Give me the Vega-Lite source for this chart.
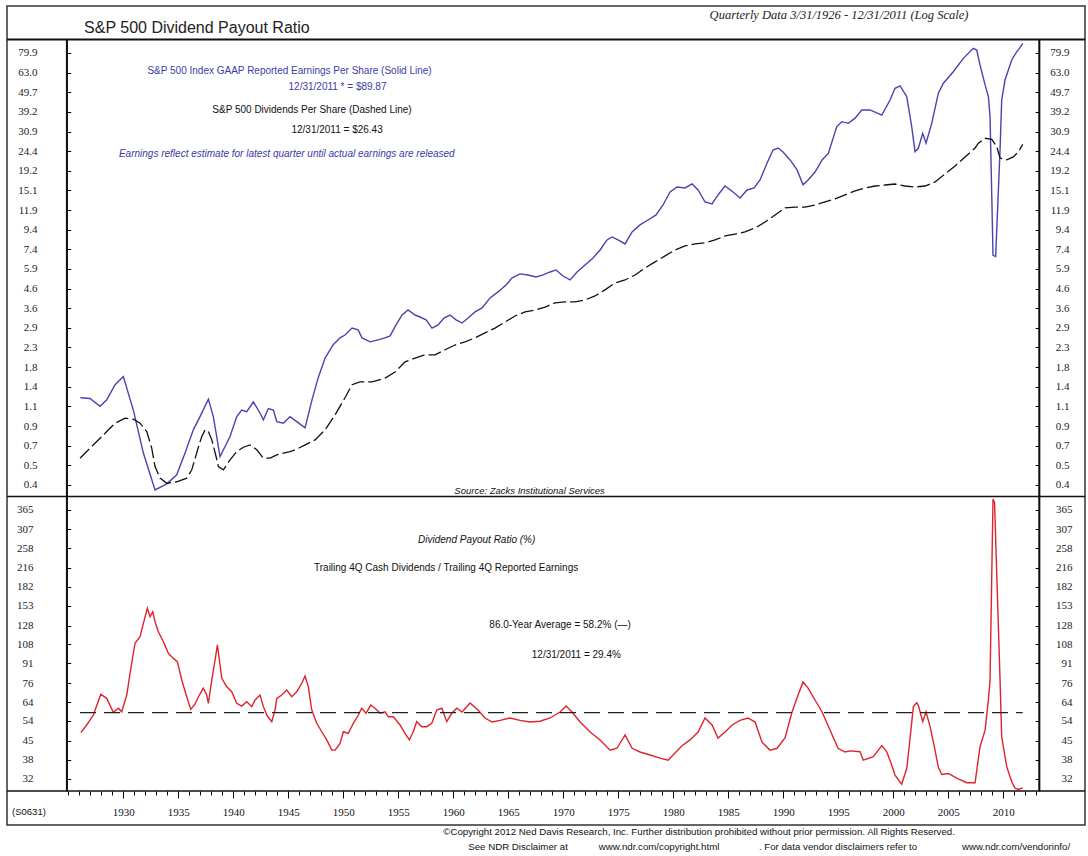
{
  "$schema": "https://vega.github.io/schema/vega-lite/v6.json",
  "width": 1078,
  "height": 819,
  "autosize": {"type": "none"},
  "padding": {"left": 7, "top": 6, "right": 3, "bottom": 31},
  "background": "white",
  "config": {
    "view": {"stroke": "#333", "strokeWidth": 1.5},
    "axis": {
      "grid": false,
      "tickColor": "#000",
      "labelFont": "Liberation Serif",
      "labelFontSize": 11,
      "labelColor": "#222",
      "labelOverlap": false,
      "labelFlush": false
    },
    "text": {"font": "Liberation Sans, Arial, sans-serif", "fontSize": 10, "color": "#111"}
  },
  "datasets": {
    "earnings": [
      {"year": 1926.1, "eps": 1.23}, {"year": 1926.97, "eps": 1.22}, {"year": 1927.88, "eps": 1.11}, {"year": 1928.49, "eps": 1.2},
      {"year": 1929.25, "eps": 1.44}, {"year": 1930.0, "eps": 1.59}, {"year": 1930.91, "eps": 1.06}, {"year": 1931.82, "eps": 0.63},
      {"year": 1932.88, "eps": 0.403}, {"year": 1933.95, "eps": 0.434}, {"year": 1934.85, "eps": 0.484}, {"year": 1935.61, "eps": 0.631},
      {"year": 1936.36, "eps": 0.834}, {"year": 1936.97, "eps": 0.979}, {"year": 1937.73, "eps": 1.21}, {"year": 1938.18, "eps": 0.979},
      {"year": 1938.79, "eps": 0.604}, {"year": 1939.7, "eps": 0.769}, {"year": 1940.31, "eps": 0.979}, {"year": 1940.76, "eps": 1.06},
      {"year": 1941.22, "eps": 1.04}, {"year": 1941.82, "eps": 1.17}, {"year": 1942.43, "eps": 1.02}, {"year": 1942.73, "eps": 0.941},
      {"year": 1943.18, "eps": 1.08}, {"year": 1943.64, "eps": 1.06}, {"year": 1943.95, "eps": 0.922}, {"year": 1944.55, "eps": 0.904},
      {"year": 1945.15, "eps": 0.979}, {"year": 1945.76, "eps": 0.922}, {"year": 1946.52, "eps": 0.854}, {"year": 1947.15, "eps": 1.2},
      {"year": 1947.7, "eps": 1.56}, {"year": 1948.34, "eps": 1.99}, {"year": 1949.06, "eps": 2.33}, {"year": 1949.7, "eps": 2.54},
      {"year": 1950.15, "eps": 2.63}, {"year": 1950.79, "eps": 2.86}, {"year": 1951.34, "eps": 2.8}, {"year": 1951.7, "eps": 2.54},
      {"year": 1952.43, "eps": 2.42}, {"year": 1953.15, "eps": 2.48}, {"year": 1953.79, "eps": 2.54}, {"year": 1954.25, "eps": 2.6},
      {"year": 1954.79, "eps": 2.97}, {"year": 1955.34, "eps": 3.35}, {"year": 1955.88, "eps": 3.56}, {"year": 1956.52, "eps": 3.35},
      {"year": 1956.97, "eps": 3.27}, {"year": 1957.52, "eps": 3.16}, {"year": 1958.06, "eps": 2.86}, {"year": 1958.61, "eps": 2.97},
      {"year": 1959.15, "eps": 3.23}, {"year": 1959.7, "eps": 3.35}, {"year": 1960.25, "eps": 3.16}, {"year": 1960.79, "eps": 3.04},
      {"year": 1961.34, "eps": 3.23}, {"year": 1961.97, "eps": 3.48}, {"year": 1962.61, "eps": 3.65}, {"year": 1963.34, "eps": 4.12},
      {"year": 1964.06, "eps": 4.43}, {"year": 1964.79, "eps": 4.82}, {"year": 1965.34, "eps": 5.25}, {"year": 1966.06, "eps": 5.51},
      {"year": 1966.79, "eps": 5.44}, {"year": 1967.52, "eps": 5.31}, {"year": 1968.15, "eps": 5.44}, {"year": 1968.79, "eps": 5.64},
      {"year": 1969.34, "eps": 5.78}, {"year": 1969.97, "eps": 5.37}, {"year": 1970.61, "eps": 5.12}, {"year": 1971.25, "eps": 5.64},
      {"year": 1971.97, "eps": 6.14}, {"year": 1972.7, "eps": 6.68}, {"year": 1973.34, "eps": 7.36}, {"year": 1973.97, "eps": 8.31},
      {"year": 1974.43, "eps": 8.62}, {"year": 1974.97, "eps": 8.31}, {"year": 1975.61, "eps": 7.92}, {"year": 1976.25, "eps": 9.16},
      {"year": 1976.97, "eps": 9.97}, {"year": 1977.7, "eps": 10.58}, {"year": 1978.43, "eps": 11.25}, {"year": 1979.06, "eps": 12.69},
      {"year": 1979.7, "eps": 14.85}, {"year": 1980.34, "eps": 15.79}, {"year": 1981.06, "eps": 15.6}, {"year": 1981.7, "eps": 16.37},
      {"year": 1982.25, "eps": 15.22}, {"year": 1982.88, "eps": 13.16}, {"year": 1983.52, "eps": 12.85}, {"year": 1984.06, "eps": 14.33},
      {"year": 1984.7, "eps": 15.97}, {"year": 1985.43, "eps": 14.85}, {"year": 1986.06, "eps": 13.81}, {"year": 1986.7, "eps": 15.22},
      {"year": 1987.34, "eps": 15.6}, {"year": 1987.88, "eps": 17.18}, {"year": 1988.52, "eps": 21.1}, {"year": 1989.06, "eps": 24.7},
      {"year": 1989.52, "eps": 25.3}, {"year": 1989.97, "eps": 24.1}, {"year": 1990.61, "eps": 21.9}, {"year": 1991.25, "eps": 19.4},
      {"year": 1991.79, "eps": 16.2}, {"year": 1992.25, "eps": 17.18}, {"year": 1992.88, "eps": 18.9}, {"year": 1993.52, "eps": 21.9},
      {"year": 1994.09, "eps": 23.7}, {"year": 1994.85, "eps": 32.7}, {"year": 1995.31, "eps": 34.8}, {"year": 1995.91, "eps": 34.1},
      {"year": 1996.52, "eps": 36.3}, {"year": 1997.13, "eps": 40.1}, {"year": 1997.88, "eps": 40.1}, {"year": 1998.95, "eps": 37.7},
      {"year": 1999.7, "eps": 45.2}, {"year": 2000.15, "eps": 52.1}, {"year": 2000.61, "eps": 53.6}, {"year": 2001.22, "eps": 47.1},
      {"year": 2001.67, "eps": 32.7}, {"year": 2001.97, "eps": 24.2}, {"year": 2002.27, "eps": 25.2}, {"year": 2002.67, "eps": 30.2},
      {"year": 2002.97, "eps": 26.8}, {"year": 2003.49, "eps": 34.1}, {"year": 2004.09, "eps": 49.1}, {"year": 2004.55, "eps": 55.4},
      {"year": 2005.45, "eps": 63.7}, {"year": 2006.36, "eps": 74.9}, {"year": 2007.27, "eps": 84.6}, {"year": 2007.58, "eps": 82.8},
      {"year": 2007.88, "eps": 69.1}, {"year": 2008.34, "eps": 54.3}, {"year": 2008.64, "eps": 47.1}, {"year": 2008.79, "eps": 37.0},
      {"year": 2008.95, "eps": 14.0}, {"year": 2009.06, "eps": 6.9}, {"year": 2009.3, "eps": 6.8}, {"year": 2009.7, "eps": 24.7},
      {"year": 2009.85, "eps": 45.2}, {"year": 2010.15, "eps": 57.6}, {"year": 2010.76, "eps": 73.4}, {"year": 2011.22, "eps": 81.2},
      {"year": 2011.5, "eps": 85.0}, {"year": 2011.76, "eps": 89.87}
    ],
    "dividends": [
      {"year": 1926.06, "dps": 0.592}, {"year": 1926.97, "dps": 0.668}, {"year": 1927.58, "dps": 0.724}, {"year": 1928.49, "dps": 0.817},
      {"year": 1929.25, "dps": 0.904}, {"year": 1930.15, "dps": 0.961}, {"year": 1930.91, "dps": 0.949}, {"year": 1931.52, "dps": 0.904},
      {"year": 1932.13, "dps": 0.817}, {"year": 1932.58, "dps": 0.668}, {"year": 1932.88, "dps": 0.535}, {"year": 1933.34, "dps": 0.465},
      {"year": 1933.95, "dps": 0.437}, {"year": 1934.85, "dps": 0.445}, {"year": 1935.76, "dps": 0.465}, {"year": 1936.22, "dps": 0.514},
      {"year": 1936.82, "dps": 0.676}, {"year": 1937.13, "dps": 0.769}, {"year": 1937.43, "dps": 0.834}, {"year": 1937.73, "dps": 0.817},
      {"year": 1938.04, "dps": 0.739}, {"year": 1938.43, "dps": 0.604}, {"year": 1938.64, "dps": 0.535}, {"year": 1939.09, "dps": 0.514},
      {"year": 1939.7, "dps": 0.58}, {"year": 1940.31, "dps": 0.641}, {"year": 1940.91, "dps": 0.676}, {"year": 1941.52, "dps": 0.695},
      {"year": 1942.13, "dps": 0.655}, {"year": 1942.73, "dps": 0.592}, {"year": 1943.34, "dps": 0.592}, {"year": 1943.95, "dps": 0.616},
      {"year": 1944.55, "dps": 0.629}, {"year": 1945.15, "dps": 0.641}, {"year": 1945.76, "dps": 0.66}, {"year": 1946.53, "dps": 0.695},
      {"year": 1947.43, "dps": 0.739}, {"year": 1948.34, "dps": 0.834}, {"year": 1949.25, "dps": 1.0}, {"year": 1950.15, "dps": 1.23},
      {"year": 1950.79, "dps": 1.44}, {"year": 1951.52, "dps": 1.49}, {"year": 1952.61, "dps": 1.49}, {"year": 1953.79, "dps": 1.56},
      {"year": 1954.7, "dps": 1.68}, {"year": 1955.61, "dps": 1.9}, {"year": 1956.52, "dps": 1.99}, {"year": 1957.43, "dps": 2.07},
      {"year": 1958.34, "dps": 2.07}, {"year": 1959.25, "dps": 2.2}, {"year": 1960.15, "dps": 2.33}, {"year": 1961.06, "dps": 2.42},
      {"year": 1961.97, "dps": 2.54}, {"year": 1962.88, "dps": 2.7}, {"year": 1963.79, "dps": 2.86}, {"year": 1964.7, "dps": 3.08},
      {"year": 1965.61, "dps": 3.31}, {"year": 1966.52, "dps": 3.48}, {"year": 1967.43, "dps": 3.56}, {"year": 1968.34, "dps": 3.69},
      {"year": 1969.25, "dps": 3.88}, {"year": 1970.15, "dps": 3.93}, {"year": 1971.06, "dps": 3.93}, {"year": 1971.97, "dps": 4.02},
      {"year": 1972.88, "dps": 4.22}, {"year": 1973.79, "dps": 4.54}, {"year": 1974.7, "dps": 4.94}, {"year": 1975.61, "dps": 5.12},
      {"year": 1976.52, "dps": 5.44}, {"year": 1977.43, "dps": 5.92}, {"year": 1978.34, "dps": 6.37}, {"year": 1979.25, "dps": 6.85},
      {"year": 1980.15, "dps": 7.36}, {"year": 1981.06, "dps": 7.73}, {"year": 1981.97, "dps": 7.92}, {"year": 1982.88, "dps": 8.02},
      {"year": 1983.79, "dps": 8.31}, {"year": 1984.7, "dps": 8.72}, {"year": 1985.61, "dps": 8.93}, {"year": 1986.52, "dps": 9.16},
      {"year": 1987.43, "dps": 9.61}, {"year": 1988.34, "dps": 10.33}, {"year": 1989.25, "dps": 11.25}, {"year": 1990.15, "dps": 12.24},
      {"year": 1991.06, "dps": 12.38}, {"year": 1991.97, "dps": 12.38}, {"year": 1992.88, "dps": 12.69}, {"year": 1993.79, "dps": 13.16},
      {"year": 1994.7, "dps": 13.65}, {"year": 1995.61, "dps": 14.33}, {"year": 1996.52, "dps": 15.04}, {"year": 1997.43, "dps": 15.6},
      {"year": 1998.34, "dps": 15.97}, {"year": 1999.25, "dps": 16.16}, {"year": 2000.15, "dps": 16.36}, {"year": 2001.06, "dps": 15.97},
      {"year": 2001.97, "dps": 15.78}, {"year": 2002.88, "dps": 15.97}, {"year": 2003.79, "dps": 16.77}, {"year": 2004.7, "dps": 18.47},
      {"year": 2005.61, "dps": 20.35}, {"year": 2006.52, "dps": 22.7}, {"year": 2007.43, "dps": 25.31}, {"year": 2007.73, "dps": 26.8},
      {"year": 2008.34, "dps": 28.46}, {"year": 2008.95, "dps": 28.1}, {"year": 2009.4, "dps": 25.7}, {"year": 2009.7, "dps": 22.4},
      {"year": 2010.31, "dps": 21.9}, {"year": 2010.91, "dps": 22.7}, {"year": 2011.25, "dps": 23.8}, {"year": 2011.5, "dps": 24.9},
      {"year": 2011.76, "dps": 26.43}
    ],
    "payout": [
      {"year": 1926.13, "pct": 48.5}, {"year": 1926.67, "pct": 52.0}, {"year": 1927.27, "pct": 56.9}, {"year": 1927.95, "pct": 68.6},
      {"year": 1928.49, "pct": 66.2}, {"year": 1929.09, "pct": 58.3}, {"year": 1929.55, "pct": 60.5}, {"year": 1929.85, "pct": 58.6},
      {"year": 1930.31, "pct": 68.2}, {"year": 1930.61, "pct": 83.1}, {"year": 1931.06, "pct": 109.0}, {"year": 1931.52, "pct": 115.7},
      {"year": 1931.82, "pct": 130.7}, {"year": 1932.18, "pct": 149.7}, {"year": 1932.43, "pct": 138.7}, {"year": 1932.67, "pct": 145.2},
      {"year": 1932.88, "pct": 132.6}, {"year": 1933.18, "pct": 121.1}, {"year": 1933.64, "pct": 110.6}, {"year": 1934.09, "pct": 99.6},
      {"year": 1934.55, "pct": 95.1}, {"year": 1934.91, "pct": 92.3}, {"year": 1935.31, "pct": 78.2}, {"year": 1935.76, "pct": 67.2},
      {"year": 1936.13, "pct": 59.9}, {"year": 1936.52, "pct": 62.9}, {"year": 1936.91, "pct": 68.2}, {"year": 1937.27, "pct": 72.5},
      {"year": 1937.58, "pct": 68.2}, {"year": 1937.73, "pct": 63.3}, {"year": 1938.04, "pct": 78.2}, {"year": 1938.34, "pct": 93.7},
      {"year": 1938.55, "pct": 107.4}, {"year": 1938.73, "pct": 93.7}, {"year": 1938.95, "pct": 79.4}, {"year": 1939.4, "pct": 73.5},
      {"year": 1939.85, "pct": 70.3}, {"year": 1940.31, "pct": 63.3}, {"year": 1940.76, "pct": 61.7}, {"year": 1941.22, "pct": 64.2},
      {"year": 1941.67, "pct": 61.4}, {"year": 1941.97, "pct": 65.2}, {"year": 1942.43, "pct": 68.2}, {"year": 1942.73, "pct": 61.4},
      {"year": 1943.04, "pct": 56.9}, {"year": 1943.49, "pct": 53.6}, {"year": 1943.79, "pct": 59.5}, {"year": 1943.95, "pct": 66.2},
      {"year": 1944.4, "pct": 68.2}, {"year": 1944.85, "pct": 71.4}, {"year": 1945.31, "pct": 67.2}, {"year": 1945.76, "pct": 70.3},
      {"year": 1946.22, "pct": 75.9}, {"year": 1946.52, "pct": 81.1}, {"year": 1946.82, "pct": 73.5}, {"year": 1947.13, "pct": 59.5},
      {"year": 1947.58, "pct": 52.8}, {"year": 1948.04, "pct": 48.9}, {"year": 1948.49, "pct": 45.4}, {"year": 1948.95, "pct": 41.4},
      {"year": 1949.25, "pct": 41.4}, {"year": 1949.7, "pct": 44.0}, {"year": 1950.0, "pct": 48.9}, {"year": 1950.45, "pct": 48.2},
      {"year": 1950.91, "pct": 52.8}, {"year": 1951.36, "pct": 56.9}, {"year": 1951.67, "pct": 60.5}, {"year": 1952.06, "pct": 57.8},
      {"year": 1952.49, "pct": 62.3}, {"year": 1952.88, "pct": 60.5}, {"year": 1953.34, "pct": 57.8}, {"year": 1953.79, "pct": 58.6},
      {"year": 1954.09, "pct": 56.0}, {"year": 1954.55, "pct": 56.0}, {"year": 1955.15, "pct": 52.0}, {"year": 1955.61, "pct": 48.2},
      {"year": 1956.0, "pct": 45.4}, {"year": 1956.36, "pct": 48.9}, {"year": 1956.67, "pct": 53.6}, {"year": 1957.13, "pct": 51.2},
      {"year": 1957.58, "pct": 51.2}, {"year": 1958.04, "pct": 52.8}, {"year": 1958.49, "pct": 59.5}, {"year": 1958.95, "pct": 60.5},
      {"year": 1959.4, "pct": 53.6}, {"year": 1959.85, "pct": 57.8}, {"year": 1960.31, "pct": 60.5}, {"year": 1960.79, "pct": 58.5},
      {"year": 1961.52, "pct": 63.5}, {"year": 1962.24, "pct": 59.5}, {"year": 1962.88, "pct": 55.4}, {"year": 1963.52, "pct": 53.4},
      {"year": 1964.25, "pct": 54.2}, {"year": 1965.15, "pct": 55.4}, {"year": 1966.06, "pct": 54.2}, {"year": 1966.97, "pct": 53.4},
      {"year": 1967.88, "pct": 53.8}, {"year": 1968.79, "pct": 55.4}, {"year": 1969.7, "pct": 58.5}, {"year": 1970.25, "pct": 61.7},
      {"year": 1970.79, "pct": 58.5}, {"year": 1971.52, "pct": 53.4}, {"year": 1972.43, "pct": 48.8}, {"year": 1973.34, "pct": 45.4},
      {"year": 1974.25, "pct": 41.4}, {"year": 1974.88, "pct": 42.1}, {"year": 1975.61, "pct": 47.5}, {"year": 1976.25, "pct": 42.1},
      {"year": 1976.97, "pct": 40.7}, {"year": 1977.88, "pct": 39.6}, {"year": 1978.79, "pct": 38.5}, {"year": 1979.52, "pct": 37.8},
      {"year": 1980.15, "pct": 40.3}, {"year": 1980.79, "pct": 43.1}, {"year": 1981.52, "pct": 45.4}, {"year": 1982.25, "pct": 48.8},
      {"year": 1982.88, "pct": 55.4}, {"year": 1983.52, "pct": 52.0}, {"year": 1984.06, "pct": 46.2}, {"year": 1984.7, "pct": 48.8},
      {"year": 1985.34, "pct": 52.0}, {"year": 1986.06, "pct": 54.2}, {"year": 1986.79, "pct": 55.4}, {"year": 1987.43, "pct": 53.4},
      {"year": 1988.06, "pct": 44.5}, {"year": 1988.79, "pct": 41.4}, {"year": 1989.43, "pct": 42.1}, {"year": 1990.15, "pct": 46.2},
      {"year": 1990.79, "pct": 58.5}, {"year": 1991.34, "pct": 68.2}, {"year": 1991.79, "pct": 76.8}, {"year": 1992.25, "pct": 72.6},
      {"year": 1992.88, "pct": 65.2}, {"year": 1993.52, "pct": 58.5}, {"year": 1994.25, "pct": 49.6}, {"year": 1994.97, "pct": 42.1},
      {"year": 1995.61, "pct": 40.7}, {"year": 1996.06, "pct": 41.1}, {"year": 1996.97, "pct": 40.8}, {"year": 1997.27, "pct": 37.8},
      {"year": 1998.18, "pct": 39.0}, {"year": 1998.95, "pct": 43.1}, {"year": 1999.4, "pct": 40.8}, {"year": 1999.85, "pct": 36.2},
      {"year": 2000.15, "pct": 33.0}, {"year": 2000.76, "pct": 30.4}, {"year": 2001.22, "pct": 35.1}, {"year": 2001.52, "pct": 46.1},
      {"year": 2001.82, "pct": 61.4}, {"year": 2002.13, "pct": 63.6}, {"year": 2002.27, "pct": 62.2}, {"year": 2002.67, "pct": 53.6},
      {"year": 2002.97, "pct": 58.6}, {"year": 2003.34, "pct": 51.2}, {"year": 2003.79, "pct": 41.4}, {"year": 2004.09, "pct": 35.4},
      {"year": 2004.4, "pct": 33.2}, {"year": 2005.0, "pct": 33.5}, {"year": 2005.76, "pct": 32.1}, {"year": 2006.67, "pct": 30.8},
      {"year": 2007.43, "pct": 30.8}, {"year": 2007.88, "pct": 42.7}, {"year": 2008.34, "pct": 49.6}, {"year": 2008.64, "pct": 65.2},
      {"year": 2008.79, "pct": 78.2}, {"year": 2009.06, "pct": 403}, {"year": 2009.2, "pct": 390}, {"year": 2009.7, "pct": 78.2},
      {"year": 2009.85, "pct": 46.7}, {"year": 2010.31, "pct": 35.6}, {"year": 2010.76, "pct": 31.1}, {"year": 2011.06, "pct": 29.3},
      {"year": 2011.36, "pct": 29.0}, {"year": 2011.76, "pct": 29.4}
    ],
    "average": [
      {"year": 1926.06, "pct": 58.2}, {"year": 2011.76, "pct": 58.2}
    ]
  },
  "resolve": {"scale": {"y": "independent"}, "axis": {"x": "independent", "y": "independent"}},
  "layer": [
    {
      "data": {"name": "earnings"},
      "mark": {"type": "line", "color": "#4a43b0", "strokeWidth": 1.4},
      "encoding": {
        "x": {"field": "year", "type": "quantitative",
              "scale": {"domain": [1924.85, 2013.25], "range": [59.7, 1032.1], "nice": false, "zero": false},
              "axis": {"orient": "bottom", "offset": -34, "title": null, "domain": false,
                       "values": [1930, 1935, 1940, 1945, 1950, 1955, 1960, 1965, 1970, 1975, 1980, 1985, 1990, 1995, 2000, 2005, 2010],
                       "format": "d", "tickSize": 7, "labelPadding": 14, "labelBaseline": "middle", "labelDx": -5, "labelColor": "#111"}},
        "y": {"field": "eps", "type": "quantitative",
              "scale": {"type": "log", "domain": [0.3723, 94.08], "range": [490.5, 33.5], "nice": false},
              "axis": {"orient": "left", "offset": -59.7, "title": null, "format": ".1f", "tickSize": -4, "labelPadding": 33.7,
                       "domain": true, "domainColor": "#111", "domainWidth": 1.5,
                       "values": [0.428, 0.543, 0.689, 0.874, 1.108, 1.406, 1.783, 2.261, 2.868, 3.637, 4.613, 5.851, 7.421, 9.412, 11.94, 15.14, 19.2, 24.36, 30.88, 39.16, 49.67, 63.0, 79.9]}}
      }
    },
    {
      "data": {"name": "dividends"},
      "mark": {"type": "line", "color": "#111", "strokeWidth": 1.3, "strokeDash": [13, 4]},
      "encoding": {
        "x": {"field": "year", "type": "quantitative",
              "scale": {"domain": [1924.85, 2013.25], "range": [59.7, 1032.1], "nice": false, "zero": false},
              "axis": {"orient": "bottom", "offset": -34, "title": null, "domain": false, "labels": false, "tickSize": 4,
                       "values": [1925, 1926, 1927, 1928, 1929, 1930, 1931, 1932, 1933, 1934, 1935, 1936, 1937, 1938, 1939, 1940, 1941, 1942, 1943, 1944, 1945, 1946, 1947, 1948, 1949, 1950, 1951, 1952, 1953, 1954, 1955, 1956, 1957, 1958, 1959, 1960, 1961, 1962, 1963, 1964, 1965, 1966, 1967, 1968, 1969, 1970, 1971, 1972, 1973, 1974, 1975, 1976, 1977, 1978, 1979, 1980, 1981, 1982, 1983, 1984, 1985, 1986, 1987, 1988, 1989, 1990, 1991, 1992, 1993, 1994, 1995, 1996, 1997, 1998, 1999, 2000, 2001, 2002, 2003, 2004, 2005, 2006, 2007, 2008, 2009, 2010, 2011, 2012, 2013]}},
        "y": {"field": "dps", "type": "quantitative",
              "scale": {"type": "log", "domain": [0.3723, 94.08], "range": [490.5, 33.5], "nice": false},
              "axis": {"orient": "right", "offset": -45.9, "title": null, "format": ".1f", "tickSize": -4, "labelPadding": 33.9, "labelAlign": "right",
                       "domain": true, "domainColor": "#111", "domainWidth": 1.5,
                       "values": [0.428, 0.543, 0.689, 0.874, 1.108, 1.406, 1.783, 2.261, 2.868, 3.637, 4.613, 5.851, 7.421, 9.412, 11.94, 15.14, 19.2, 24.36, 30.88, 39.16, 49.67, 63.0, 79.9]}}
      }
    },
    {
      "data": {"name": "payout"},
      "mark": {"type": "line", "color": "#e0222c", "strokeWidth": 1.4},
      "encoding": {
        "x": {"field": "year", "type": "quantitative",
              "scale": {"domain": [1924.85, 2013.25], "range": [59.7, 1032.1], "nice": false, "zero": false}, "axis": null},
        "y": {"field": "pct", "type": "quantitative",
              "scale": {"type": "log", "domain": [28.58, 412.5], "range": [785, 490.5], "nice": false},
              "axis": {"orient": "left", "offset": -59.7, "title": null, "format": "d", "tickSize": -4, "labelPadding": 37.7,
                       "domain": true, "domainColor": "#111", "domainWidth": 1.5,
                       "values": [32, 38, 45, 54, 64, 76, 91, 108, 128, 153, 182, 216, 258, 307, 365]}}
      }
    },
    {
      "data": {"name": "average"},
      "mark": {"type": "line", "color": "#222", "strokeWidth": 1.3, "strokeDash": [16, 8]},
      "encoding": {
        "x": {"field": "year", "type": "quantitative",
              "scale": {"domain": [1924.85, 2013.25], "range": [59.7, 1032.1], "nice": false, "zero": false}, "axis": null},
        "y": {"field": "pct", "type": "quantitative",
              "scale": {"type": "log", "domain": [28.58, 412.5], "range": [785, 490.5], "nice": false},
              "axis": {"orient": "right", "offset": -45.9, "title": null, "format": "d", "tickSize": -4, "labelPadding": 36.9, "labelAlign": "right",
                       "domain": true, "domainColor": "#111", "domainWidth": 1.5,
                       "values": [32, 38, 45, 54, 64, 76, 91, 108, 128, 153, 182, 216, 258, 307, 365]}}
      }
    },
    {
      "data": {"values": [{}]},
      "mark": {"type": "rule", "color": "#111", "strokeWidth": 2},
      "encoding": {
        "y": {"datum": 94.08, "type": "quantitative", "scale": {"type": "log", "domain": [0.3723, 94.08], "range": [490.5, 33.5], "nice": false}, "axis": null}
      }
    },
    {
      "data": {"values": [{}]},
      "mark": {"type": "rule", "color": "#111", "strokeWidth": 1.6},
      "encoding": {
        "y": {"datum": 0.3723, "type": "quantitative", "scale": {"type": "log", "domain": [0.3723, 94.08], "range": [490.5, 33.5], "nice": false}, "axis": null}
      }
    },
    {
      "data": {"values": [{}]},
      "mark": {"type": "rule", "color": "#111", "strokeWidth": 1.6},
      "encoding": {
        "y": {"datum": 28.58, "type": "quantitative", "scale": {"type": "log", "domain": [28.58, 412.5], "range": [785, 490.5], "nice": false}, "axis": null}
      }
    },
    {
      "data": {"values": [{}]},
      "mark": {"type": "text", "align": "left", "baseline": "middle", "font": "Liberation Sans", "fontSize": 16, "color": "#222"},
      "encoding": {
        "x": {"datum": 1926.43, "type": "quantitative", "scale": {"domain": [1924.85, 2013.25], "range": [59.7, 1032.1], "nice": false, "zero": false}, "axis": null},
        "y": {"datum": 108.1, "type": "quantitative", "scale": {"type": "log", "domain": [0.3723, 94.08], "range": [490.5, 33.5], "nice": false}, "axis": null},
        "text": {"value": "S&P 500 Dividend Payout Ratio"}
      }
    },
    {
      "data": {"values": [{}]},
      "mark": {"type": "text", "align": "center", "baseline": "middle", "font": "Liberation Serif", "fontStyle": "italic", "fontSize": 12.5, "color": "#222"},
      "encoding": {
        "x": {"datum": 1995.06, "type": "quantitative", "scale": {"domain": [1924.85, 2013.25], "range": [59.7, 1032.1], "nice": false, "zero": false}, "axis": null},
        "y": {"datum": 126.5, "type": "quantitative", "scale": {"type": "log", "domain": [0.3723, 94.08], "range": [490.5, 33.5], "nice": false}, "axis": null},
        "text": {"value": "Quarterly Data 3/31/1926 - 12/31/2011 (Log Scale)"}
      }
    },
    {
      "data": {"values": [{}]},
      "mark": {"type": "text", "align": "center", "baseline": "middle", "color": "#3b3ba6"},
      "encoding": {
        "x": {"datum": 1945.11, "type": "quantitative", "scale": {"domain": [1924.85, 2013.25], "range": [59.7, 1032.1], "nice": false, "zero": false}, "axis": null},
        "y": {"datum": 64.3, "type": "quantitative", "scale": {"type": "log", "domain": [0.3723, 94.08], "range": [490.5, 33.5], "nice": false}, "axis": null},
        "text": {"value": "S&P 500 Index GAAP Reported Earnings Per Share (Solid Line)"}
      }
    },
    {
      "data": {"values": [{}]},
      "mark": {"type": "text", "align": "center", "baseline": "middle", "color": "#3b3ba6"},
      "encoding": {
        "x": {"datum": 1949.47, "type": "quantitative", "scale": {"domain": [1924.85, 2013.25], "range": [59.7, 1032.1], "nice": false, "zero": false}, "axis": null},
        "y": {"datum": 52.8, "type": "quantitative", "scale": {"type": "log", "domain": [0.3723, 94.08], "range": [490.5, 33.5], "nice": false}, "axis": null},
        "text": {"value": "12/31/2011 * = $89.87"}
      }
    },
    {
      "data": {"values": [{}]},
      "mark": {"type": "text", "align": "center", "baseline": "middle"},
      "encoding": {
        "x": {"datum": 1947.15, "type": "quantitative", "scale": {"domain": [1924.85, 2013.25], "range": [59.7, 1032.1], "nice": false, "zero": false}, "axis": null},
        "y": {"datum": 40.1, "type": "quantitative", "scale": {"type": "log", "domain": [0.3723, 94.08], "range": [490.5, 33.5], "nice": false}, "axis": null},
        "text": {"value": "S&P 500 Dividends Per Share (Dashed Line)"}
      }
    },
    {
      "data": {"values": [{}]},
      "mark": {"type": "text", "align": "center", "baseline": "middle"},
      "encoding": {
        "x": {"datum": 1949.43, "type": "quantitative", "scale": {"domain": [1924.85, 2013.25], "range": [59.7, 1032.1], "nice": false, "zero": false}, "axis": null},
        "y": {"datum": 31.5, "type": "quantitative", "scale": {"type": "log", "domain": [0.3723, 94.08], "range": [490.5, 33.5], "nice": false}, "axis": null},
        "text": {"value": "12/31/2011 = $26.43"}
      }
    },
    {
      "data": {"values": [{}]},
      "mark": {"type": "text", "align": "center", "baseline": "middle", "fontStyle": "italic", "color": "#3b3ba6"},
      "encoding": {
        "x": {"datum": 1944.86, "type": "quantitative", "scale": {"domain": [1924.85, 2013.25], "range": [59.7, 1032.1], "nice": false, "zero": false}, "axis": null},
        "y": {"datum": 23.5, "type": "quantitative", "scale": {"type": "log", "domain": [0.3723, 94.08], "range": [490.5, 33.5], "nice": false}, "axis": null},
        "text": {"value": "Earnings reflect estimate for latest quarter until actual earnings are released"}
      }
    },
    {
      "data": {"values": [{}]},
      "mark": {"type": "text", "align": "center", "baseline": "middle", "fontStyle": "italic", "fontSize": 9.5},
      "encoding": {
        "x": {"datum": 1966.93, "type": "quantitative", "scale": {"domain": [1924.85, 2013.25], "range": [59.7, 1032.1], "nice": false, "zero": false}, "axis": null},
        "y": {"datum": 0.398, "type": "quantitative", "scale": {"type": "log", "domain": [0.3723, 94.08], "range": [490.5, 33.5], "nice": false}, "axis": null},
        "text": {"value": "Source: Zacks Institutional Services"}
      }
    },
    {
      "data": {"values": [{}]},
      "mark": {"type": "text", "align": "center", "baseline": "middle", "fontStyle": "italic"},
      "encoding": {
        "x": {"datum": 1962.12, "type": "quantitative", "scale": {"domain": [1924.85, 2013.25], "range": [59.7, 1032.1], "nice": false, "zero": false}, "axis": null},
        "y": {"datum": 278, "type": "quantitative", "scale": {"type": "log", "domain": [28.58, 412.5], "range": [785, 490.5], "nice": false}, "axis": null},
        "text": {"value": "Dividend Payout Ratio (%)"}
      }
    },
    {
      "data": {"values": [{}]},
      "mark": {"type": "text", "align": "center", "baseline": "middle"},
      "encoding": {
        "x": {"datum": 1959.34, "type": "quantitative", "scale": {"domain": [1924.85, 2013.25], "range": [59.7, 1032.1], "nice": false, "zero": false}, "axis": null},
        "y": {"datum": 215.8, "type": "quantitative", "scale": {"type": "log", "domain": [28.58, 412.5], "range": [785, 490.5], "nice": false}, "axis": null},
        "text": {"value": "Trailing 4Q Cash Dividends / Trailing 4Q Reported Earnings"}
      }
    },
    {
      "data": {"values": [{}]},
      "mark": {"type": "text", "align": "center", "baseline": "middle"},
      "encoding": {
        "x": {"datum": 1969.7, "type": "quantitative", "scale": {"domain": [1924.85, 2013.25], "range": [59.7, 1032.1], "nice": false, "zero": false}, "axis": null},
        "y": {"datum": 128.7, "type": "quantitative", "scale": {"type": "log", "domain": [28.58, 412.5], "range": [785, 490.5], "nice": false}, "axis": null},
        "text": {"value": "86.0-Year Average = 58.2% (—)"}
      }
    },
    {
      "data": {"values": [{}]},
      "mark": {"type": "text", "align": "center", "baseline": "middle"},
      "encoding": {
        "x": {"datum": 1971.18, "type": "quantitative", "scale": {"domain": [1924.85, 2013.25], "range": [59.7, 1032.1], "nice": false, "zero": false}, "axis": null},
        "y": {"datum": 98.0, "type": "quantitative", "scale": {"type": "log", "domain": [28.58, 412.5], "range": [785, 490.5], "nice": false}, "axis": null},
        "text": {"value": "12/31/2011 = 29.4%"}
      }
    },
    {
      "data": {"values": [{}]},
      "mark": {"type": "text", "align": "left", "baseline": "middle", "fontSize": 9.5},
      "encoding": {
        "x": {"datum": 1919.88, "type": "quantitative", "scale": {"domain": [1924.85, 2013.25], "range": [59.7, 1032.1], "nice": false, "zero": false}, "axis": null},
        "y": {"datum": 23.6, "type": "quantitative", "scale": {"type": "log", "domain": [28.58, 412.5], "range": [785, 490.5], "nice": false}, "axis": null},
        "text": {"value": "(S0631)"}
      }
    },
    {
      "data": {"values": [{}]},
      "mark": {"type": "text", "align": "center", "baseline": "middle", "fontSize": 9.7},
      "encoding": {
        "x": {"datum": 1982.34, "type": "quantitative", "scale": {"domain": [1924.85, 2013.25], "range": [59.7, 1032.1], "nice": false, "zero": false}, "axis": null},
        "y": {"datum": 19.7, "type": "quantitative", "scale": {"type": "log", "domain": [28.58, 412.5], "range": [785, 490.5], "nice": false}, "axis": null},
        "text": {"value": "©Copyright 2012 Ned Davis Research, Inc. Further distribution prohibited without prior permission. All Rights Reserved."}
      }
    },
    {
      "data": {"values": [{}]},
      "mark": {"type": "text", "align": "center", "baseline": "middle", "fontSize": 9.7},
      "encoding": {
        "x": {"datum": 1965.88, "type": "quantitative", "scale": {"domain": [1924.85, 2013.25], "range": [59.7, 1032.1], "nice": false, "zero": false}, "axis": null},
        "y": {"datum": 17.2, "type": "quantitative", "scale": {"type": "log", "domain": [28.58, 412.5], "range": [785, 490.5], "nice": false}, "axis": null},
        "text": {"value": "See NDR Disclaimer at"}
      }
    },
    {
      "data": {"values": [{}]},
      "mark": {"type": "text", "align": "center", "baseline": "middle", "fontSize": 9.7},
      "encoding": {
        "x": {"datum": 1978.7, "type": "quantitative", "scale": {"domain": [1924.85, 2013.25], "range": [59.7, 1032.1], "nice": false, "zero": false}, "axis": null},
        "y": {"datum": 17.2, "type": "quantitative", "scale": {"type": "log", "domain": [28.58, 412.5], "range": [785, 490.5], "nice": false}, "axis": null},
        "text": {"value": "www.ndr.com/copyright.html"}
      }
    },
    {
      "data": {"values": [{}]},
      "mark": {"type": "text", "align": "center", "baseline": "middle", "fontSize": 9.7},
      "encoding": {
        "x": {"datum": 1994.97, "type": "quantitative", "scale": {"domain": [1924.85, 2013.25], "range": [59.7, 1032.1], "nice": false, "zero": false}, "axis": null},
        "y": {"datum": 17.2, "type": "quantitative", "scale": {"type": "log", "domain": [28.58, 412.5], "range": [785, 490.5], "nice": false}, "axis": null},
        "text": {"value": ". For data vendor disclaimers refer to"}
      }
    },
    {
      "data": {"values": [{}]},
      "mark": {"type": "text", "align": "center", "baseline": "middle", "fontSize": 9.7},
      "encoding": {
        "x": {"datum": 2011.15, "type": "quantitative", "scale": {"domain": [1924.85, 2013.25], "range": [59.7, 1032.1], "nice": false, "zero": false}, "axis": null},
        "y": {"datum": 17.2, "type": "quantitative", "scale": {"type": "log", "domain": [28.58, 412.5], "range": [785, 490.5], "nice": false}, "axis": null},
        "text": {"value": "www.ndr.com/vendorinfo/"}
      }
    },
    {
      "data": {"values": [{}]},
      "mark": {"type": "rule", "color": "#111", "strokeWidth": 1.6},
      "encoding": {
        "x": {"datum": 1924.85, "type": "quantitative", "scale": {"domain": [1924.85, 2013.25], "range": [59.7, 1032.1], "nice": false, "zero": false}, "axis": null},
        "y": {"datum": 0.3723, "type": "quantitative", "scale": {"type": "log", "domain": [0.3723, 94.08], "range": [490.5, 33.5], "nice": false}, "axis": null},
        "y2": {"datum": 94.08}
      }
    },
    {
      "data": {"values": [{}]},
      "mark": {"type": "rule", "color": "#111", "strokeWidth": 1.6},
      "encoding": {
        "x": {"datum": 2013.25, "type": "quantitative", "scale": {"domain": [1924.85, 2013.25], "range": [59.7, 1032.1], "nice": false, "zero": false}, "axis": null},
        "y": {"datum": 0.3723, "type": "quantitative", "scale": {"type": "log", "domain": [0.3723, 94.08], "range": [490.5, 33.5], "nice": false}, "axis": null},
        "y2": {"datum": 94.08}
      }
    },
    {
      "data": {"values": [{}]},
      "mark": {"type": "rule", "color": "#111", "strokeWidth": 1.6},
      "encoding": {
        "x": {"datum": 1924.85, "type": "quantitative", "scale": {"domain": [1924.85, 2013.25], "range": [59.7, 1032.1], "nice": false, "zero": false}, "axis": null},
        "y": {"datum": 28.58, "type": "quantitative", "scale": {"type": "log", "domain": [28.58, 412.5], "range": [785, 490.5], "nice": false}, "axis": null},
        "y2": {"datum": 412.5}
      }
    },
    {
      "data": {"values": [{}]},
      "mark": {"type": "rule", "color": "#111", "strokeWidth": 1.6},
      "encoding": {
        "x": {"datum": 2013.25, "type": "quantitative", "scale": {"domain": [1924.85, 2013.25], "range": [59.7, 1032.1], "nice": false, "zero": false}, "axis": null},
        "y": {"datum": 28.58, "type": "quantitative", "scale": {"type": "log", "domain": [28.58, 412.5], "range": [785, 490.5], "nice": false}, "axis": null},
        "y2": {"datum": 412.5}
      }
    }
  ]
}
